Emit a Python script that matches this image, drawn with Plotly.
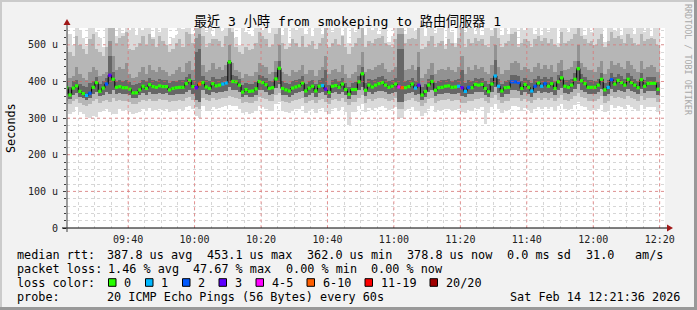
import plotly.graph_objects as go
from datetime import datetime, timedelta

# ---------------- data (values in microseconds) ----------------
median = [
    383, 363, 382, 388, 373, 367, 362, 368, 384, 397, 373, 382, 393, 417, 406, 384, 386, 383, 383, 379,
    369, 369, 377, 387, 381, 391, 386, 384, 388, 386, 386, 377, 381, 383, 384, 384, 394, 403, 386, 383,
    393, 397, 385, 381, 394, 388, 390, 393, 396, 453.1, 400, 399, 390, 371, 378, 373, 374, 380, 400, 397,
    391, 381, 383, 407, 436, 381, 377, 374, 382, 385, 388, 396, 374, 382, 387, 374, 387, 389, 379, 370,
    387, 389, 384, 393, 378, 365, 378, 378, 399, 421, 376, 390, 385, 390, 394, 397, 390, 384, 387, 393,
    385, 383, 383, 386, 393, 382, 390, 363, 373, 390, 400, 376, 383, 384, 387, 388, 384, 385, 387, 383,
    373, 384, 383, 392, 390, 392, 381, 372, 393, 415, 387, 374, 383, 384, 399, 399, 397, 381, 392, 384,
    374, 387, 396, 387, 394, 387, 394, 381, 399, 410, 387, 384, 390, 406, 435, 402, 394, 384, 384, 384,
    390, 406, 377, 384, 405, 393, 403, 397, 390, 406, 397, 390, 383, 405, 387, 395, 395, 395, 378.8,
]
# lost pings (of 20) per step
loss = [
    0, 0, 0, 0, 0, 0, 1, 2, 0, 0, 0, 0, 2, 3, 0, 0, 0, 0, 0, 0,
    0, 0, 0, 0, 0, 0, 0, 0, 0, 0, 0, 0, 0, 0, 0, 0, 0, 0, 0, 3,
    9, 0, 0, 0, 0, 0, 0, 1, 1, 0, 0, 0, 0, 0, 0, 0, 0, 0, 0, 0,
    0, 0, 0, 0, 0, 0, 0, 0, 0, 0, 0, 0, 0, 0, 0, 0, 0, 1, 3, 0,
    0, 0, 0, 0, 0, 0, 0, 0, 0, 0, 0, 0, 0, 0, 0, 0, 0, 0, 0, 0,
    4, 9, 0, 0, 0, 1, 3, 0, 0, 0, 0, 0, 0, 0, 0, 0, 0, 0, 1, 3,
    1, 2, 0, 0, 0, 0, 0, 0, 0, 1, 1, 0, 0, 0, 2, 2, 2, 0, 0, 0,
    1, 2, 0, 1, 2, 0, 0, 0, 0, 0, 0, 0, 0, 0, 0, 0, 0, 0, 0, 0,
    0, 0, 0, 1, 2, 0, 0, 0, 0, 0, 0, 0, 0, 0, 0, 0, 0, 0, 0,
]
ping_max = [
    550, 530, 500, 550, 538, 520, 498, 550, 550, 535, 518, 495, 550, 550, 550, 525, 550, 532, 550, 540,
    550, 528, 550, 540, 550, 550, 522, 550, 536, 550, 550, 502, 520, 528, 550, 542, 550, 550, 530, 550,
    550, 550, 536, 550, 524, 550, 550, 538, 550, 550, 550, 520, 500, 550, 534, 530, 525, 550, 550, 540,
    550, 532, 550, 550, 550, 526, 550, 505, 550, 538, 550, 550, 530, 550, 524, 550, 550, 530, 550, 550,
    536, 550, 550, 528, 550, 505, 550, 534, 550, 550, 526, 550, 540, 550, 530, 550, 550, 508, 525, 550,
    550, 550, 530, 550, 550, 538, 550, 550, 524, 550, 550, 532, 550, 550, 500, 550, 536, 506, 550, 550,
    534, 550, 550, 530, 550, 526, 550, 550, 540, 550, 550, 528, 550, 530, 550, 550, 502, 550, 540, 550,
    550, 530, 550, 526, 550, 535, 550, 550, 505, 550, 550, 536, 550, 550, 550, 550, 528, 550, 534, 550,
    550, 550, 508, 550, 550, 538, 550, 526, 550, 550, 550, 530, 550, 550, 536, 550, 524, 550, 550,
]
ping_hi = [
    495, 480, 470, 525, 500, 490, 475, 515, 530, 490, 480, 470, 495, 550, 545, 505, 520, 525, 535, 490,
    485, 495, 505, 525, 500, 530, 515, 495, 525, 510, 500, 480, 490, 505, 515, 495, 535, 530, 505, 550,
    550, 525, 495, 505, 515, 515, 510, 495, 525, 550, 535, 495, 480, 475, 495, 485, 490, 505, 535, 525,
    515, 495, 500, 530, 550, 505, 490, 495, 515, 505, 495, 525, 495, 500, 510, 490, 505, 520, 545, 495,
    505, 515, 500, 525, 495, 475, 495, 505, 520, 550, 495, 510, 505, 515, 520, 525, 505, 500, 495, 515,
    550, 550, 505, 515, 520, 515, 545, 490, 495, 510, 525, 495, 505, 510, 490, 515, 505, 495, 520, 545,
    495, 515, 505, 520, 510, 515, 500, 495, 525, 550, 520, 495, 505, 510, 530, 535, 495, 505, 515, 510,
    495, 515, 525, 510, 520, 505, 515, 500, 495, 535, 505, 510, 515, 530, 550, 525, 515, 505, 510, 500,
    515, 530, 495, 510, 535, 520, 525, 515, 505, 530, 520, 505, 500, 530, 510, 515, 520, 515, 500,
]
ping_uq = [
    425, 410, 415, 440, 420, 410, 405, 425, 440, 430, 415, 420, 425, 510, 470, 430, 440, 435, 450, 420,
    410, 412, 425, 440, 420, 445, 430, 425, 440, 430, 425, 415, 420, 430, 440, 425, 450, 455, 430, 520,
    530, 445, 425, 430, 450, 435, 440, 430, 445, 500, 450, 430, 425, 410, 420, 415, 415, 425, 450, 445,
    440, 420, 425, 455, 500, 425, 420, 415, 430, 425, 430, 445, 420, 430, 430, 415, 430, 440, 470, 420,
    430, 435, 425, 445, 420, 410, 420, 425, 445, 480, 425, 435, 430, 440, 445, 450, 435, 425, 430, 440,
    530, 530, 430, 435, 445, 430, 480, 410, 420, 435, 450, 420, 430, 435, 430, 440, 430, 425, 440, 470,
    420, 440, 430, 445, 435, 440, 425, 420, 445, 500, 440, 420, 430, 430, 450, 455, 450, 430, 440, 435,
    425, 440, 450, 435, 445, 435, 445, 425, 450, 460, 430, 435, 440, 455, 500, 450, 440, 430, 430, 425,
    440, 455, 420, 435, 455, 445, 450, 440, 435, 455, 445, 435, 425, 455, 435, 440, 445, 440, 425,
]
ping_uc = [
    402, 385, 400, 405, 392, 388, 385, 395, 402, 412, 392, 400, 410, 470, 425, 402, 405, 402, 405, 398,
    390, 392, 396, 405, 400, 410, 405, 402, 408, 404, 404, 396, 400, 402, 404, 403, 412, 420, 404, 480,
    490, 414, 404, 400, 412, 406, 408, 412, 414, 460, 418, 416, 408, 390, 396, 392, 393, 398, 418, 414,
    410, 400, 402, 425, 455, 400, 396, 393, 400, 404, 406, 414, 394, 400, 405, 394, 405, 410, 430, 390,
    405, 408, 402, 410, 396, 386, 396, 398, 416, 440, 395, 408, 404, 408, 412, 415, 408, 402, 405, 410,
    490, 490, 402, 404, 410, 400, 440, 385, 392, 408, 418, 395, 402, 403, 405, 406, 402, 404, 406, 430,
    395, 405, 402, 410, 408, 410, 400, 392, 410, 460, 406, 394, 402, 403, 418, 418, 415, 400, 410, 403,
    395, 406, 414, 406, 412, 406, 412, 400, 417, 428, 405, 403, 408, 424, 455, 420, 412, 403, 403, 402,
    408, 424, 396, 403, 423, 411, 421, 415, 408, 424, 415, 408, 402, 423, 405, 413, 413, 413, 398,
]
ping_lq = [
    366, 352, 364, 368, 358, 354, 350, 355, 365, 372, 360, 364, 370, 365, 378, 366, 368, 365, 366, 362,
    356, 356, 362, 368, 364, 370, 367, 366, 369, 367, 368, 362, 364, 366, 367, 366, 372, 378, 367, 350,
    345, 376, 367, 364, 372, 368, 370, 372, 374, 385, 378, 376, 370, 357, 362, 358, 359, 364, 378, 376,
    372, 364, 366, 382, 392, 364, 362, 358, 364, 368, 370, 374, 358, 364, 368, 358, 368, 370, 362, 356,
    368, 370, 366, 372, 362, 352, 362, 362, 376, 385, 360, 370, 366, 370, 373, 375, 370, 366, 368, 372,
    345, 345, 366, 368, 372, 364, 365, 350, 358, 370, 376, 360, 366, 367, 368, 369, 366, 367, 368, 360,
    358, 366, 365, 371, 370, 372, 364, 357, 372, 385, 368, 358, 365, 366, 376, 376, 374, 364, 371, 366,
    358, 368, 374, 368, 372, 368, 372, 364, 376, 382, 368, 366, 370, 380, 392, 378, 372, 366, 366, 366,
    370, 380, 360, 366, 380, 372, 378, 374, 370, 380, 374, 370, 365, 380, 368, 373, 373, 373, 362,
]
ping_lo = [
    348, 338, 346, 352, 340, 336, 334, 338, 348, 352, 342, 346, 350, 345, 356, 348, 350, 347, 348, 344,
    338, 339, 345, 350, 346, 352, 348, 348, 352, 349, 350, 344, 346, 348, 349, 348, 354, 358, 349, 330,
    325, 356, 349, 346, 354, 350, 352, 354, 356, 360, 358, 356, 352, 340, 344, 340, 342, 346, 358, 356,
    352, 346, 348, 362, 368, 346, 344, 340, 346, 350, 352, 356, 340, 346, 350, 340, 350, 352, 344, 338,
    350, 352, 348, 354, 344, 335, 344, 344, 356, 362, 342, 352, 348, 352, 355, 356, 352, 348, 350, 354,
    325, 325, 348, 350, 354, 346, 345, 332, 340, 352, 356, 342, 348, 349, 350, 351, 348, 349, 350, 342,
    340, 348, 347, 353, 352, 354, 346, 340, 354, 362, 350, 340, 347, 348, 356, 356, 355, 346, 353, 348,
    340, 350, 356, 350, 354, 350, 354, 346, 356, 362, 350, 348, 352, 360, 368, 358, 354, 348, 348, 348,
    352, 360, 342, 348, 360, 354, 358, 356, 352, 360, 356, 352, 347, 360, 350, 355, 355, 355, 344,
]
ping_min = [
    322, 312, 318, 330, 316, 310, 302, 300, 305, 303, 316, 320, 326, 318, 310, 312, 325, 320, 322, 318,
    312, 314, 318, 326, 320, 328, 322, 322, 326, 323, 325, 318, 320, 322, 324, 322, 330, 334, 324, 305,
    300, 332, 322, 320, 330, 325, 328, 330, 332, 336, 334, 332, 326, 314, 318, 312, 315, 320, 334, 330,
    326, 320, 322, 338, 344, 320, 318, 314, 320, 325, 326, 332, 314, 320, 325, 314, 326, 328, 318, 312,
    325, 328, 322, 330, 318, 280, 318, 318, 332, 338, 316, 328, 322, 328, 330, 332, 328, 322, 325, 330,
    300, 300, 322, 325, 330, 320, 320, 306, 314, 326, 332, 316, 322, 323, 325, 326, 322, 323, 325, 316,
    314, 322, 320, 328, 326, 330, 285, 314, 330, 338, 325, 314, 322, 322, 332, 332, 330, 320, 328, 322,
    314, 325, 330, 325, 330, 325, 330, 320, 332, 338, 325, 322, 326, 336, 344, 334, 330, 322, 322, 322,
    326, 336, 316, 322, 336, 328, 334, 330, 326, 336, 330, 326, 320, 336, 325, 330, 330, 330, 318,
]

loss_labels = ["0", "1", "2", "3", "4-5", "6-10", "11-19", "20/20"]
loss_colors = ["#26ff00", "#00b8ff", "#0059ff", "#5e00ff", "#ff00ff", "#ff5e00", "#ff0000", "#a00000"]
loss_upper = [0, 1, 2, 3, 5, 10, 19, 20]

y_ticks = [0, 100, 200, 300, 400, 500]
y_ticktext = ["0", "100 u", "200 u", "300 u", "400 u", "500 u"]
x_ticktext = ["09:40", "10:00", "10:20", "10:40", "11:00", "11:20", "11:40", "12:00", "12:20"]

title_text = "最近 3 小時 from smokeping to 路由伺服器 1"
stats_line1 = [("median rtt:", 16), ("387.8 us avg", 106), ("453.1 us max", 206),
               ("362.0 us min", 306), ("378.8 us now", 406), ("0.0 ms sd", 506),
               ("31.0", 585), ("am/s", 634)]
stats_line2 = [("packet loss:", 16), ("1.46 % avg", 107), ("47.67 % max", 192),
               ("0.00 % min", 285), ("0.00 % now", 370)]
probe_text = "20 ICMP Echo Pings (56 Bytes) every 60s"
date_text = "Sat Feb 14 12:21:36 2026"

# ---------------- layout geometry ----------------
W_IMG, H_IMG = 697, 310
L, R, T, B = 67, 665, 28, 228
PW, PH = R - L, B - T


def px(x):
    return (x - L) / PW


def py(y):
    return (B - y) / PH


t_start = datetime(2026, 2, 14, 9, 21, 36)
t_end = datetime(2026, 2, 14, 12, 21, 36)
first_end = datetime(2026, 2, 14, 9, 22, 0)
n = len(median)
bin_start = [first_end + timedelta(minutes=i - 1) for i in range(n)]
bin_end = [s + timedelta(minutes=1) for s in bin_start]
bin_mid = [s + timedelta(seconds=30) for s in bin_start]
STEP_MS = 60000
Y_MAX = 546


def loss_idx(v):
    for k, u in enumerate(loss_upper):
        if v <= u:
            return k
    return len(loss_upper) - 1


fig = go.Figure()

bands = [
    (ping_min, ping_max, "#dadada"),
    (ping_lo, ping_hi, "#b6b6b6"),
    (ping_lq, ping_uq, "#929292"),
    (ping_lq, ping_uc, "#666666"),
]
for lo_arr, hi_arr, col in bands:
    fig.add_trace(go.Bar(
        x=bin_mid, base=lo_arr, y=[h - l for l, h in zip(lo_arr, hi_arr)],
        width=STEP_MS, marker=dict(color=col, line=dict(width=0)),
        hoverinfo="skip", showlegend=False))

# median line (black steps)
fig.add_trace(go.Scatter(
    x=bin_start + [bin_end[-1]], y=median + [median[-1]],
    mode="lines", line=dict(color="#000000", width=1, shape="hv"),
    hoverinfo="skip", showlegend=False))

# median markers coloured by loss
for k, col in enumerate(loss_colors):
    xs, ys = [], []
    for i in range(n):
        if loss_idx(loss[i]) == k:
            xs += [bin_start[i], bin_end[i], None]
            ys += [median[i], median[i], None]
    if xs:
        fig.add_trace(go.Scatter(x=xs, y=ys, mode="lines", line=dict(color=col, width=3.2),
                                 hoverinfo="skip", showlegend=False, connectgaps=False))

shapes = []
for v in y_ticks[1:]:
    shapes.append(dict(type="line", xref="paper", yref="y", x0=0, x1=1, y0=v, y1=v,
                       line=dict(color="rgba(235,90,90,0.55)", width=1, dash="dot"), layer="above"))
x_major = [datetime(2026, 2, 14, 9, 40) + timedelta(minutes=20 * k) for k in range(len(x_ticktext))]
for t in x_major:
    shapes.append(dict(type="line", xref="x", yref="paper", x0=t, x1=t, y0=0, y1=1,
                       line=dict(color="rgba(235,90,90,0.55)", width=1, dash="dot"), layer="above"))
shapes.append(dict(type="line", xref="paper", yref="paper", x0=px(62), x1=px(668), y0=0, y1=0,
                   line=dict(color="#000000", width=1), layer="above"))
shapes.append(dict(type="line", xref="paper", yref="paper", x0=0, x1=0, y0=py(232), y1=py(24),
                   line=dict(color="#404040", width=1), layer="above"))
shapes.append(dict(type="path", xref="paper", yref="paper",
                   path=f"M {px(667)} {py(224.5)} L {px(673)} {py(228)} L {px(667)} {py(231.5)} Z",
                   fillcolor="#a01818", line=dict(width=0), layer="above"))
shapes.append(dict(type="path", xref="paper", yref="paper",
                   path=f"M {px(63.5)} {py(25)} L {px(67)} {py(19)} L {px(70.5)} {py(25)} Z",
                   fillcolor="#a01818", line=dict(width=0), layer="above"))
shapes += [
    dict(type="rect", xref="paper", yref="paper", x0=px(0), x1=px(W_IMG), y0=py(0), y1=py(2),
         fillcolor="#cbcbcb", line=dict(width=0)),
    dict(type="rect", xref="paper", yref="paper", x0=px(0), x1=px(2), y0=py(0), y1=py(H_IMG),
         fillcolor="#cbcbcb", line=dict(width=0)),
    dict(type="rect", xref="paper", yref="paper", x0=px(0), x1=px(W_IMG), y0=py(H_IMG - 3), y1=py(H_IMG),
         fillcolor="#999999", line=dict(width=0)),
    dict(type="rect", xref="paper", yref="paper", x0=px(W_IMG - 3), x1=px(W_IMG), y0=py(0), y1=py(H_IMG),
         fillcolor="#999999", line=dict(width=0)),
]

MONO = "DejaVu Sans Mono, Noto Sans CJK TC, monospace"
LEG_SIZE = 11.8
annotations = []


def txt(s, x, y, size=LEG_SIZE, xanchor="left", color="#000000", angle=0):
    annotations.append(dict(text=s, x=px(x), y=py(y), xref="paper", yref="paper",
                            xanchor=xanchor, yanchor="middle", showarrow=False,
                            textangle=angle, borderpad=0,
                            font=dict(family=MONO, size=size, color=color)))


txt(title_text, 347, 21, size=13.1, xanchor="center")
txt("RRDTOOL / TOBI OETIKER", 688, 60, size=8.4, xanchor="center", color="#a8a8a8", angle=90)
txt("Seconds", 11, 128, xanchor="center", angle=-90)

row_y = [255, 268.5, 282.5, 296.5]
for s, x in stats_line1:
    txt(s, x, row_y[0])
for s, x in stats_line2:
    txt(s, x, row_y[1])
txt("loss color:", 16, row_y[2])
sq_x = [108.5, 145.5, 182.5, 219, 256, 307, 365, 430]
for lab, col, x in zip(loss_labels, loss_colors, sq_x):
    shapes.append(dict(type="rect", xref="paper", yref="paper", x0=px(x), x1=px(x + 7.5),
                       y0=py(row_y[2] + 3.8), y1=py(row_y[2] - 3.8),
                       fillcolor=col, line=dict(color="#000000", width=1)))
    txt(lab, x + 14.5, row_y[2])
txt("probe:", 16, row_y[3])
txt(probe_text, 106, row_y[3])
txt(date_text, 681, row_y[3], xanchor="right")

fig.update_layout(
    width=W_IMG, height=H_IMG,
    margin=dict(l=L, r=W_IMG - R, t=T, b=H_IMG - B, pad=0),
    paper_bgcolor="#f2f2f2", plot_bgcolor="#ffffff",
    barmode="overlay", bargap=0, showlegend=False,
    shapes=shapes, annotations=annotations,
    font=dict(family=MONO, size=10, color="#000000"),
    xaxis=dict(type="date", range=[t_start, t_end], tickvals=x_major, ticktext=x_ticktext,
               showgrid=False, zeroline=False, showline=False, ticks="", ticklabelstandoff=4,
               tickfont=dict(family=MONO, size=10, color="#202020"),
               minor=dict(tickmode="linear", tick0="2026-02-14 09:25:00", dtick=300000,
                          showgrid=True, gridcolor="#d6d6d6", griddash="dot", gridwidth=1)),
    yaxis=dict(range=[0, Y_MAX], tickvals=y_ticks, ticktext=y_ticktext,
               showgrid=False, zeroline=False, showline=False, ticks="outside", ticklen=3,
               tickcolor="#404040", ticklabelstandoff=3,
               tickfont=dict(family=MONO, size=10, color="#202020"),
               minor=dict(tickmode="linear", tick0=0, dtick=20, showgrid=True,
                          gridcolor="#d6d6d6", griddash="dot", gridwidth=1,
                          ticks="outside", ticklen=2, tickcolor="#404040")),
)

fig.write_html("out.html")
